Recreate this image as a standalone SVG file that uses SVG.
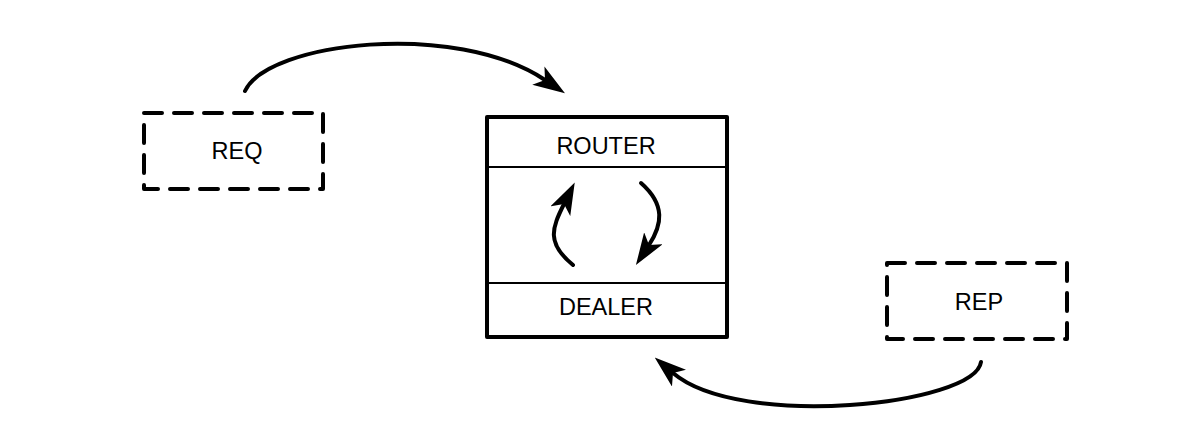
<svg xmlns="http://www.w3.org/2000/svg" width="1197" height="435" viewBox="0 0 1197 435">
<style>
.dash{fill:none;stroke:#000;stroke-width:4;stroke-dasharray:18 12;stroke-linecap:round;stroke-linejoin:round}
.box{fill:none;stroke:#000;stroke-width:4;stroke-linejoin:round}
.sep{stroke:#000;stroke-width:2}
.lbl{font-family:"Liberation Sans",Arial,sans-serif;font-size:23.5px;fill:#000;text-anchor:middle}
.edge{fill:none;stroke:#000;stroke-width:4;stroke-linecap:round}
</style>
<defs>
<marker id="ah" markerUnits="userSpaceOnUse" viewBox="0 0 32 22" markerWidth="32" markerHeight="22" refX="8" refY="11" orient="auto">
<path d="M32,11 L0,0 L8,11 L0,22 Z" fill="#000"/>
</marker>
</defs>
<rect width="1197" height="435" fill="#fff"/>
<g id="req">
<rect class="dash" x="144" y="113" width="179" height="76"/>
<text class="lbl" x="237" y="159">REQ</text>
</g>
<g id="broker">
<rect class="box" x="487" y="117" width="240" height="220"/>
<line class="sep" x1="487" y1="167" x2="727" y2="167"/>
<line class="sep" x1="487" y1="283" x2="727" y2="283"/>
<text class="lbl" x="606" y="154">ROUTER</text>
<text class="lbl" x="606" y="315">DEALER</text>
</g>
<g id="rep">
<rect class="dash" x="887" y="263" width="180" height="76"/>
<text class="lbl" x="979" y="310">REP</text>
</g>
<g id="connectors">
<path class="edge" d="M245,91 C268,42 455,20 545,80" marker-end="url(#ah)"/>
<path class="edge" d="M981,362 C975,405 740,430 673,373" marker-end="url(#ah)"/>
<path class="edge" d="M573,265 C546,243 552,228 564,204" marker-end="url(#ah)"/>
<path class="edge" d="M641,183 C666,205 662,225 649,245" marker-end="url(#ah)"/>
</g>
</svg>
